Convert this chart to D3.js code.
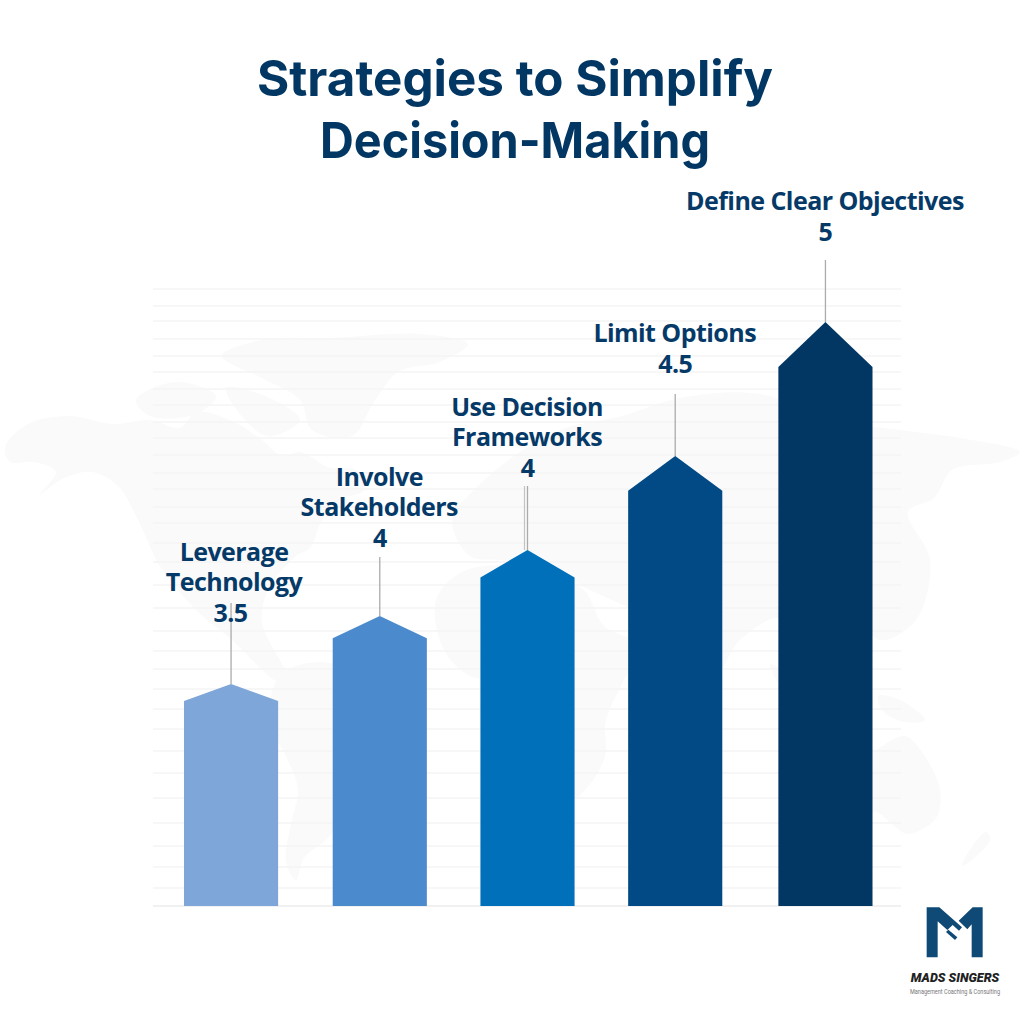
<!DOCTYPE html>
<html><head><meta charset="utf-8">
<script src="https://cdn.jsdelivr.net/npm/d3@7/dist/d3.min.js"></script>
<style>html,body{margin:0;padding:0;background:#fff}svg{display:block}</style>
</head><body><svg id="c" width="1024" height="1024"></svg>
<script>
// ---- data ----
const categories = ["Leverage Technology","Involve Stakeholders","Use Decision Frameworks","Limit Options","Define Clear Objectives"];
const labelLines = [["Leverage","Technology"],["Involve","Stakeholders"],["Use Decision","Frameworks"],["Limit Options"],["Define Clear Objectives"]];
const statedValues = ["3.5","4","4","4.5","5"];
const drawnHeights = [222,290,356,450,584];
const colors = ["#7EA6D8","#4A8ACD","#0070BB","#024A85","#023764"];
const gridLevels = [0,18,39,60,83,108,133,155,177,197,217,237,255,275,298,321,344,363,383,399,417,433,451,468,484,501,517,534,550,567,585,600,617];
const titleLines = ["Strategies to Simplify","Decision-Making"];

// ---- layout ----
const navy = "#023764";
const leaderLength = [81,59,64,62,62];
const labelLift = [62,69,73,83,81];
const barNudge = [0,0,-1,-2,-0.5];
const titleWidths = [516,390];
const lineStep = 30.7, capRatio = 0.077;

const svg = d3.select("#c");
const x = d3.scaleBand().domain(categories).range([156.7,900.3]).paddingInner(0.367).paddingOuter(0.1835);
const y = d3.scaleLinear().domain([0,584]).range([906,322]);
const bx = (d,i)=>x(d)+barNudge[i];

// faint world map behind the chart
const land = [
 // North America
 [[5,447],[28,424],[70,416],[112,424],[150,420],[180,428],[196,412],[230,420],[262,440],[282,456],[300,452],[330,468],[356,470],[364,490],[340,500],[322,520],[310,548],[296,556],[268,590],[262,622],[282,664],[296,690],[274,680],[232,640],[196,610],[160,566],[138,520],[118,486],[92,472],[64,478],[40,494],[56,472],[34,462],[10,462]],
 // Arctic islands
 [[136,400],[176,382],[216,396],[196,414],[150,416]],
 [[226,388],[270,398],[300,420],[268,436],[240,414]],
 // Greenland
 [[222,356],[262,340],[330,338],[420,334],[468,344],[440,362],[398,372],[374,402],[352,436],[312,430],[300,400],[262,378]],
 // South America
 [[284,672],[322,662],[356,674],[398,700],[420,712],[406,748],[372,784],[352,808],[328,838],[304,858],[296,880],[286,862],[292,820],[298,790],[284,752],[268,724],[272,692]],
 // Africa
 [[436,600],[462,572],[510,566],[556,578],[584,590],[604,626],[640,646],[622,684],[606,720],[604,760],[574,800],[548,806],[530,770],[522,724],[506,682],[470,676],[444,650]],
 // Europe + Asia
 [[470,556],[452,520],[478,486],[520,452],[566,428],[622,416],[680,398],[760,394],[830,420],[900,430],[960,438],[1020,452],[1000,462],[952,470],[934,498],[908,512],[930,560],[916,620],[880,640],[850,612],[826,640],[800,650],[780,618],[740,640],[716,672],[684,638],[650,618],[612,600],[590,590],[540,566],[500,560]],
 // Indonesia
 [[770,664],[800,684],[830,712],[860,726],[820,716],[786,694]],
 // New Guinea
 [[878,696],[900,700],[925,720],[905,722],[884,712]],
 // Australia
 [[876,750],[905,736],[922,752],[940,790],[936,818],[908,834],[892,824],[876,812],[856,820],[840,800],[846,772]],
 // New Zealand
 [[986,832],[990,840],[974,858],[962,866],[966,856]]
];
svg.append("g").selectAll("path").data(land).join("path")
  .attr("d", d3.line().curve(d3.curveCatmullRomClosed.alpha(0.5)))
  .attr("fill","#fafafb");

// gridlines
svg.append("g").selectAll("line").data(gridLevels).join("line")
  .attr("x1",153).attr("x2",901)
  .attr("y1",d=>y(d)).attr("y2",d=>y(d))
  .attr("stroke",d=>d===0?"#ececec":"#f4f4f4").attr("stroke-width",1.6);

// leaders
svg.append("g").selectAll("line").data(categories).join("line")
  .attr("x1",(d,i)=>bx(d,i)+x.bandwidth()/2).attr("x2",(d,i)=>bx(d,i)+x.bandwidth()/2)
  .attr("y1",(d,i)=>y(drawnHeights[i])).attr("y2",(d,i)=>y(drawnHeights[i])-leaderLength[i])
  .attr("stroke","#ababab").attr("stroke-width",1.3);
svg.append("line").attr("x1",bx(categories[2],2)+x.bandwidth()/2-3).attr("x2",bx(categories[2],2)+x.bandwidth()/2-3)
  .attr("y1",y(drawnHeights[2])).attr("y2",y(drawnHeights[2])-64).attr("stroke","#c4c4c4").attr("stroke-width",1.2);

// arrow-topped bars
svg.append("g").selectAll("path").data(categories).join("path")
  .attr("fill",(d,i)=>colors[i])
  .attr("d",(d,i)=>{
    const h=drawnHeights[i], l=bx(d,i), r=l+x.bandwidth(), m=l+x.bandwidth()/2;
    const p=d3.path();
    p.moveTo(l,y(0)); p.lineTo(l,y(h*(1-capRatio))); p.lineTo(m,y(h));
    p.lineTo(r,y(h*(1-capRatio))); p.lineTo(r,y(0)); p.closePath();
    return p.toString();
  });

// labels
const lab = svg.append("g").attr("font-family","'Open Sans',sans-serif").attr("font-weight",700).attr("font-size",25).attr("letter-spacing",-0.55).attr("fill","#053A68").attr("text-anchor","middle");
categories.forEach((c,i)=>{
  const cx = bx(c,i)+x.bandwidth()/2, base = y(drawnHeights[i])-labelLift[i];
  const lines = labelLines[i];
  lab.append("text").attr("x",i===0?cx-0.5:cx).attr("y",base).text(statedValues[i]);
  lines.forEach((t,k)=>{
    lab.append("text").attr("x",i===0?cx+3:cx-0.5).attr("y",base-lineStep*(lines.length-k)).text(t);
  });
});

// title
svg.append("g").selectAll("text").data(titleLines).join("text")
  .attr("x",515).attr("y",(d,i)=>96+i*62).attr("text-anchor","middle")
  .attr("font-family","Inter,sans-serif").attr("font-weight",700).attr("font-size",50)
  .attr("textLength",(d,i)=>titleWidths[i]).attr("lengthAdjust","spacingAndGlyphs")
  .attr("fill",navy).text(d=>d);

// logo
const logoShapes = [
 [[200,82],[238,82],[306,142],[297,152],[278,135],[262,150],[233,124],[233,232],[200,232]],
 [[368,82],[338,82],[296,122],[322,148],[335,133],[335,232],[368,232]],
 [[258,156],[265,149],[292,172],[285,180]]
];
const logoX = d3.scaleLinear().domain([0,492]).range([860,1024]);
const logoY = d3.scaleLinear().domain([0,432]).range([880,1024]);
svg.append("g").selectAll("path").data(logoShapes).join("path")
  .attr("d",d3.line().x(d=>logoX(d[0])).y(d=>logoY(d[1])).curve(d3.curveLinearClosed))
  .attr("fill","#0F4A76");
svg.append("text").attr("x",955).attr("y",982).attr("text-anchor","middle")
  .attr("font-family","Roboto,sans-serif").attr("font-style","italic").attr("font-weight",900).attr("font-size",12.6)
  .attr("fill","#222").text("MADS SINGERS");
svg.append("text").attr("x",955).attr("y",994).attr("text-anchor","middle")
  .attr("font-family","Roboto,sans-serif").attr("font-size",6.8).attr("textLength",90).attr("lengthAdjust","spacingAndGlyphs").attr("fill","#777").text("Management Coaching & Consulting");
</script></body></html>
